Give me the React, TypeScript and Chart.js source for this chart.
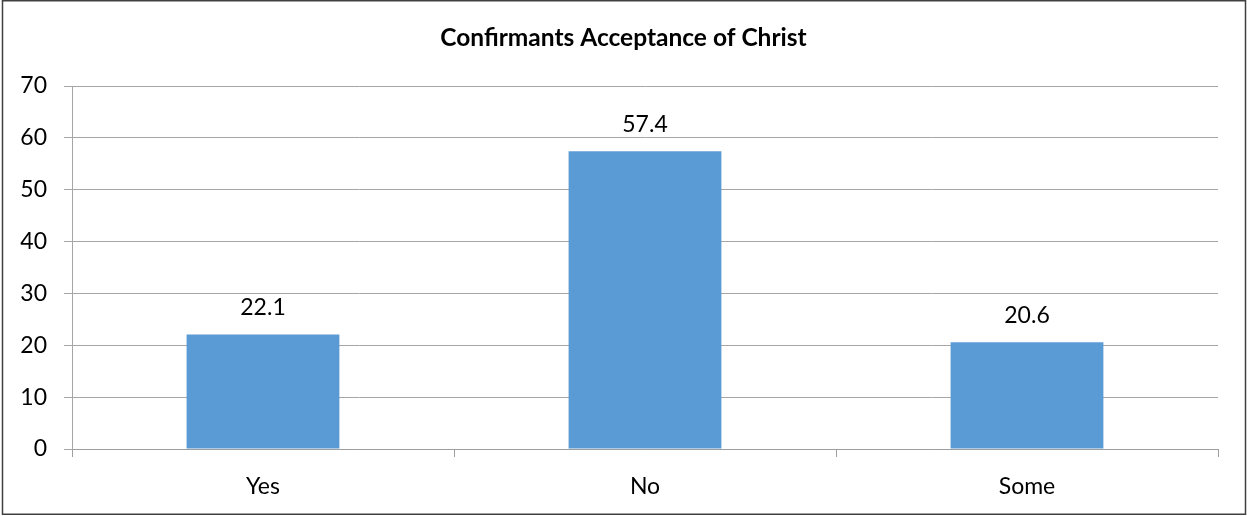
import React, { useEffect, useRef } from "react";
import { Chart, registerables } from "chart.js";

Chart.register(...registerables);

const TITLE = "Confirmants Acceptance of Christ";
const categories = ["Yes", "No", "Some"];
const values = [22.1, 57.4, 20.6];
const yTicks = [0, 10, 20, 30, 40, 50, 60, 70];

const FONT = "Lato";
const W = 1247;
const H = 516;

const framePlugin = {
  id: "frame",
  afterDraw(chart: any) {
    const ctx = chart.ctx;
    ctx.save();
    ctx.strokeStyle = "#404040";
    ctx.lineWidth = 1.5;
    ctx.strokeRect(2.5, 0.75, 1243, 513.5);
    ctx.fillStyle = "#000";
    ctx.font = `bold 24.5px ${FONT}`;
    ctx.textAlign = "center";
    ctx.textBaseline = "alphabetic";
    ctx.fillText(TITLE, W / 2, 46);
    ctx.restore();
  },
};

const labelPlugin = {
  id: "barLabels",
  afterDatasetsDraw(chart: any) {
    const ctx = chart.ctx;
    const meta = chart.getDatasetMeta(0);
    ctx.save();
    ctx.fillStyle = "#000";
    ctx.font = `23px ${FONT}`;
    ctx.textAlign = "center";
    ctx.textBaseline = "alphabetic";
    meta.data.forEach((bar: any, i: number) => {
      ctx.fillText(values[i].toFixed(1), bar.x, bar.y - 19);
    });
    ctx.restore();
  },
};

export default function App() {
  const ref = useRef<HTMLCanvasElement>(null);
  useEffect(() => {
    document.body.style.margin = "0";
    const chart = new Chart(ref.current!, {
      type: "bar",
      data: {
        labels: categories,
        datasets: [
          {
            data: values,
            backgroundColor: "#5B9BD5",
            borderWidth: 0,
            categoryPercentage: 1,
            barPercentage: 0.4,
          },
        ],
      },
      options: {
        responsive: false,
        animation: false,
        layout: { padding: { top: 86, right: 29, bottom: 0, left: 0 } },
        plugins: {
          legend: { display: false },
          title: { display: false },
          tooltip: { enabled: false },
        },
        scales: {
          x: {
            grid: {
              offset: true,
              drawOnChartArea: false,
              drawTicks: true,
              tickLength: 8,
              color: "#9e9e9e",
            },
            border: { color: "#9e9e9e", width: 1 },
            ticks: {
              color: "#000",
              font: { family: FONT, size: 23 },
              padding: 16,
            },
            afterFit: (s: any) => {
              s.height = 67;
            },
          },
          y: {
            min: 0,
            max: 70,
            afterBuildTicks: (s: any) => {
              s.ticks = yTicks.map((v) => ({ value: v }));
            },
            grid: {
              color: "#a6a6a6",
              tickLength: 8,
            },
            border: { color: "#a6a6a6", width: 1 },
            ticks: {
              color: "#000",
              font: { family: FONT, size: 23 },
              padding: 17,
            },
            afterFit: (s: any) => {
              s.width = 72;
            },
          },
        },
      },
      plugins: [labelPlugin, framePlugin],
    });
    return () => chart.destroy();
  }, []);
  return (
    <div style={{ position: "absolute", left: 0, top: 0, width: W, height: H, background: "#fff" }}>
      <canvas ref={ref} width={W} height={H} style={{ width: W, height: H }} />
    </div>
  );
}
